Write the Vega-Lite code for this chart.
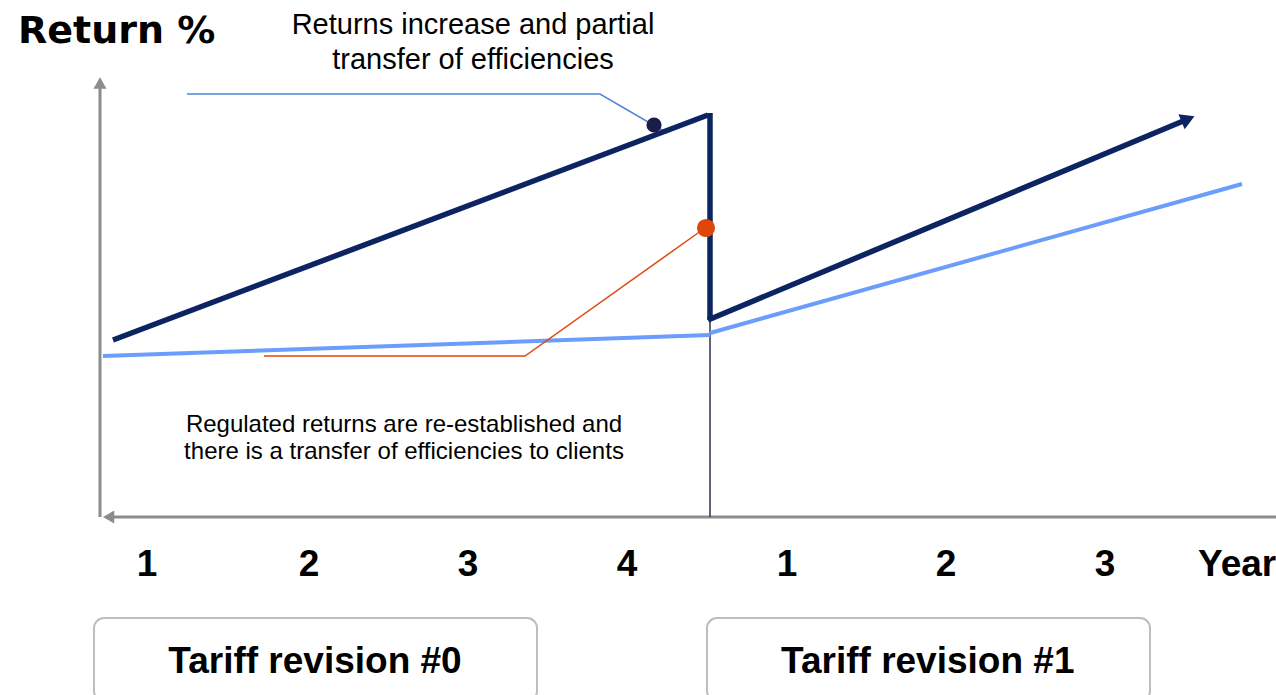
{
  "$schema": "https://vega.github.io/schema/vega-lite/v6.json",
  "width": 1276,
  "height": 695,
  "padding": 0,
  "autosize": {"type": "none"},
  "config": {"view": {"stroke": null}},
  "datasets": {
    "lines": [
      {"series": "yaxis", "o": 0, "t": 0.70625, "v": 0},
      {"series": "yaxis", "o": 1, "t": 0.70625, "v": 108},
      {"series": "xaxis", "o": 0, "t": 0.76875, "v": 0},
      {"series": "xaxis", "o": 1, "t": 8.06, "v": 0},
      {"series": "thin", "o": 0, "t": 4.51875, "v": 0},
      {"series": "thin", "o": 1, "t": 4.51875, "v": 49.25},
      {"series": "blue1", "o": 0, "t": 0.725, "v": 40.25},
      {"series": "blue1", "o": 1, "t": 4.51875, "v": 45.5},
      {"series": "blue2", "o": 0, "t": 4.51875, "v": 46},
      {"series": "blue2", "o": 1, "t": 7.84375, "v": 83.25},
      {"series": "navy1", "o": 0, "t": 0.7875, "v": 44.25},
      {"series": "navy1", "o": 1, "t": 4.50625, "v": 100.5},
      {"series": "navyV", "o": 0, "t": 4.51875, "v": 101},
      {"series": "navyV", "o": 1, "t": 4.51875, "v": 49.25},
      {"series": "navy2", "o": 0, "t": 4.50625, "v": 49.25},
      {"series": "navy2", "o": 1, "t": 7.50625, "v": 99.5},
      {"series": "annTop", "o": 0, "t": 1.25, "v": 105.75},
      {"series": "annTop", "o": 1, "t": 3.83125, "v": 105.75},
      {"series": "annTop", "o": 2, "t": 4.25, "v": 96},
      {"series": "annOrange", "o": 0, "t": 1.73125, "v": 40.25},
      {"series": "annOrange", "o": 1, "t": 3.3625, "v": 40.25},
      {"series": "annOrange", "o": 2, "t": 4.4875, "v": 72.25}
    ],
    "heads": [
      {"head": "y", "t": 0.70625, "v": 108.5},
      {"head": "x", "t": 0.76, "v": 0},
      {"head": "navy", "t": 7.50625, "v": 99.5}
    ],
    "dots": [
      {"dot": "dark", "t": 4.16875, "v": 98},
      {"dot": "orange", "t": 4.49375, "v": 72.25}
    ],
    "boxes": [
      {"label": "Tariff revision #0", "t0": 0.66875, "t1": 3.4375, "v0": -25.25, "v1": -46, "tc": 2.05, "vc": -36.25},
      {"label": "Tariff revision #1", "t0": 4.5, "t1": 7.26875, "v0": -25.25, "v1": -46, "tc": 5.88, "vc": -36.25}
    ],
    "texts": [
      {"kind": "title", "label": "Return %", "t": 0.19375, "v": 121.25},
      {"kind": "note1", "label": "Returns increase and partial", "t": 3.0375, "v": 123},
      {"kind": "note1", "label": "transfer of efficiencies", "t": 3.0375, "v": 114.25},
      {"kind": "note2", "label": "Regulated returns are re-established and", "t": 2.60625, "v": 23},
      {"kind": "note2", "label": "there is a transfer of efficiencies to clients", "t": 2.60625, "v": 16.25},
      {"kind": "tick", "label": "1", "t": 1, "v": -12},
      {"kind": "tick", "label": "2", "t": 2.0125, "v": -12},
      {"kind": "tick", "label": "3", "t": 3.0063, "v": -12},
      {"kind": "tick", "label": "4", "t": 4, "v": -12},
      {"kind": "tick", "label": "1", "t": 5, "v": -12},
      {"kind": "tick", "label": "2", "t": 5.99375, "v": -12},
      {"kind": "tick", "label": "3", "t": 6.9875, "v": -12},
      {"kind": "year", "label": "Year", "t": 7.56875, "v": -12}
    ]
  },
  "encoding": {
    "x": {"type": "quantitative", "scale": {"domain": [0.08125, 8.05625], "nice": false, "zero": false}, "axis": null},
    "y": {"type": "quantitative", "scale": {"domain": [-44.5, 129.25], "nice": false, "zero": false}, "axis": null}
  },
  "layer": [
    {
      "data": {"name": "boxes"},
      "mark": {"type": "rect", "cornerRadius": 10, "fill": "#ffffff", "stroke": "#bdbdbd", "strokeWidth": 2},
      "encoding": {
        "x": {"field": "t0", "type": "quantitative"},
        "x2": {"field": "t1"},
        "y": {"field": "v0", "type": "quantitative"},
        "y2": {"field": "v1"}
      }
    },
    {
      "data": {"name": "boxes"},
      "mark": {"type": "text", "font": "Liberation Sans", "fontWeight": "bold", "fontSize": 37, "align": "center", "baseline": "middle", "color": "#000000"},
      "encoding": {
        "x": {"field": "tc", "type": "quantitative"},
        "y": {"field": "vc", "type": "quantitative"},
        "text": {"field": "label"}
      }
    },
    {
      "data": {"name": "lines"},
      "transform": [{"filter": "datum.series === 'yaxis' || datum.series === 'xaxis'"}],
      "mark": {"type": "line", "color": "#8c8c8c", "strokeWidth": 3},
      "encoding": {
        "x": {"field": "t", "type": "quantitative"},
        "y": {"field": "v", "type": "quantitative"},
        "detail": {"field": "series"},
        "order": {"field": "o"}
      }
    },
    {
      "data": {"name": "lines"},
      "transform": [{"filter": "datum.series === 'thin'"}],
      "mark": {"type": "line", "color": "#2e2e5c", "strokeWidth": 1.5},
      "encoding": {
        "x": {"field": "t", "type": "quantitative"},
        "y": {"field": "v", "type": "quantitative"},
        "order": {"field": "o"}
      }
    },
    {
      "data": {"name": "lines"},
      "transform": [{"filter": "datum.series === 'blue1' || datum.series === 'blue2'"}],
      "mark": {"type": "line", "color": "#6b9dfc", "strokeWidth": 4},
      "encoding": {
        "x": {"field": "t", "type": "quantitative"},
        "y": {"field": "v", "type": "quantitative"},
        "detail": {"field": "series"},
        "order": {"field": "o"}
      }
    },
    {
      "data": {"name": "lines"},
      "transform": [{"filter": "datum.series === 'annTop'"}],
      "mark": {"type": "line", "color": "#4f86d6", "strokeWidth": 1.5},
      "encoding": {
        "x": {"field": "t", "type": "quantitative"},
        "y": {"field": "v", "type": "quantitative"},
        "order": {"field": "o"}
      }
    },
    {
      "data": {"name": "lines"},
      "transform": [{"filter": "datum.series === 'annOrange'"}],
      "mark": {"type": "line", "color": "#e0480f", "strokeWidth": 1.5},
      "encoding": {
        "x": {"field": "t", "type": "quantitative"},
        "y": {"field": "v", "type": "quantitative"},
        "order": {"field": "o"}
      }
    },
    {
      "data": {"name": "lines"},
      "transform": [{"filter": "datum.series === 'navy1' || datum.series === 'navyV' || datum.series === 'navy2'"}],
      "mark": {"type": "line", "color": "#0c2461", "strokeWidth": 5.5},
      "encoding": {
        "x": {"field": "t", "type": "quantitative"},
        "y": {"field": "v", "type": "quantitative"},
        "detail": {"field": "series"},
        "order": {"field": "o"}
      }
    },
    {
      "data": {"name": "dots"},
      "transform": [{"filter": "datum.dot === 'dark'"}],
      "mark": {"type": "point", "shape": "circle", "filled": true, "color": "#1c1c4a", "size": 230, "opacity": 1},
      "encoding": {
        "x": {"field": "t", "type": "quantitative"},
        "y": {"field": "v", "type": "quantitative"}
      }
    },
    {
      "data": {"name": "dots"},
      "transform": [{"filter": "datum.dot === 'orange'"}],
      "mark": {"type": "point", "shape": "circle", "filled": true, "color": "#df4608", "size": 330, "opacity": 1},
      "encoding": {
        "x": {"field": "t", "type": "quantitative"},
        "y": {"field": "v", "type": "quantitative"}
      }
    },
    {
      "data": {"name": "heads"},
      "transform": [{"filter": "datum.head === 'y'"}],
      "mark": {"type": "point", "shape": "triangle-up", "filled": true, "color": "#8c8c8c", "size": 170, "opacity": 1},
      "encoding": {
        "x": {"field": "t", "type": "quantitative"},
        "y": {"field": "v", "type": "quantitative"}
      }
    },
    {
      "data": {"name": "heads"},
      "transform": [{"filter": "datum.head === 'x'"}],
      "mark": {"type": "point", "shape": "triangle-left", "filled": true, "color": "#8c8c8c", "size": 170, "opacity": 1},
      "encoding": {
        "x": {"field": "t", "type": "quantitative"},
        "y": {"field": "v", "type": "quantitative"}
      }
    },
    {
      "data": {"name": "heads"},
      "transform": [{"filter": "datum.head === 'navy'"}],
      "mark": {"type": "point", "shape": "triangle-right", "angle": -22.6, "filled": true, "color": "#0c2461", "size": 260, "opacity": 1},
      "encoding": {
        "x": {"field": "t", "type": "quantitative"},
        "y": {"field": "v", "type": "quantitative"}
      }
    },
    {
      "data": {"name": "texts"},
      "transform": [{"filter": "datum.kind === 'title'"}],
      "mark": {"type": "text", "font": "DejaVu Sans", "fontWeight": "bold", "fontSize": 38, "align": "left", "baseline": "middle", "color": "#000000"},
      "encoding": {
        "x": {"field": "t", "type": "quantitative"},
        "y": {"field": "v", "type": "quantitative"},
        "text": {"field": "label"}
      }
    },
    {
      "data": {"name": "texts"},
      "transform": [{"filter": "datum.kind === 'note1'"}],
      "mark": {"type": "text", "font": "Liberation Sans", "fontSize": 29, "align": "center", "baseline": "middle", "color": "#000000"},
      "encoding": {
        "x": {"field": "t", "type": "quantitative"},
        "y": {"field": "v", "type": "quantitative"},
        "text": {"field": "label"}
      }
    },
    {
      "data": {"name": "texts"},
      "transform": [{"filter": "datum.kind === 'note2'"}],
      "mark": {"type": "text", "font": "Liberation Sans", "fontSize": 24, "align": "center", "baseline": "middle", "color": "#000000"},
      "encoding": {
        "x": {"field": "t", "type": "quantitative"},
        "y": {"field": "v", "type": "quantitative"},
        "text": {"field": "label"}
      }
    },
    {
      "data": {"name": "texts"},
      "transform": [{"filter": "datum.kind === 'tick'"}],
      "mark": {"type": "text", "font": "Liberation Sans", "fontWeight": "bold", "fontSize": 37, "align": "center", "baseline": "middle", "color": "#000000"},
      "encoding": {
        "x": {"field": "t", "type": "quantitative"},
        "y": {"field": "v", "type": "quantitative"},
        "text": {"field": "label"}
      }
    },
    {
      "data": {"name": "texts"},
      "transform": [{"filter": "datum.kind === 'year'"}],
      "mark": {"type": "text", "font": "Liberation Sans", "fontWeight": "bold", "fontSize": 37, "align": "left", "baseline": "middle", "color": "#000000"},
      "encoding": {
        "x": {"field": "t", "type": "quantitative"},
        "y": {"field": "v", "type": "quantitative"},
        "text": {"field": "label"}
      }
    }
  ]
}
